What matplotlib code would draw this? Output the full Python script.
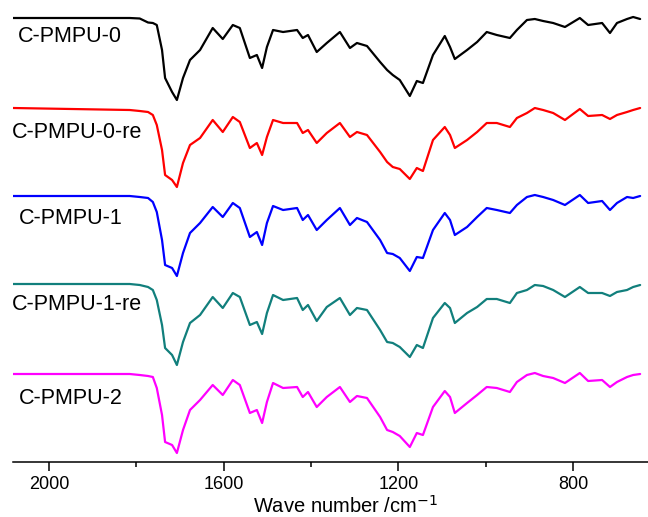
import numpy as np
import matplotlib.pyplot as plt

plt.rcParams['font.family'] = ['Liberation Sans', 'DejaVu Sans']

# wavenumbers (cm-1) at which the spectra were read
wavenumber = [2082, 1815, 1792, 1773, 1762, 1753, 1741, 1734, 1718, 1707,
              1693, 1677, 1654, 1625, 1602, 1579, 1563, 1540, 1524, 1512,
              1501, 1487, 1464, 1432, 1419, 1407, 1387, 1364, 1334, 1311,
              1295, 1272, 1242, 1226, 1213, 1197, 1174, 1158, 1144, 1121,
              1094, 1082, 1071, 1043, 1020, 998, 975, 945, 929, 906,
              888, 869, 846, 819, 785, 766, 734, 716, 700, 677,
              663, 647]

# relative transmittance (a.u., baseline = 0)
pmpu_0 = [0, 0, -0.5, -4.5, -5, -7, -32, -60, -74, -82,
          -60, -42, -32, -10, -21, -7, -10, -40, -37, -50,
          -29, -12, -14, -12, -20, -17, -34, -25, -14, -30,
          -25, -28, -44, -52, -57, -62, -78, -63, -65, -37,
          -18, -29, -41, -32, -24, -14, -17, -20, -12, -2,
          -1, -3, -5, -9, 0, -7, -5, -15, -5, -1,
          1, -1]
pmpu_0_re = [1, -1, -2, -3, -6, -16, -41, -66, -71, -78,
             -54, -36, -29, -11, -23, -8, -13, -39, -34, -46,
             -28, -11, -14, -14, -24, -21, -34, -24, -14, -28,
             -23, -26, -43, -53, -58, -60, -70, -59, -62, -31,
             -18, -26, -39, -31, -23, -14, -14, -18, -9, -4,
             1, -1, -4, -11, 0, -7, -6, -10, -6, -3,
             -1, 1]
pmpu_1 = [0, 0, -1, -2, -6, -16, -44, -69, -72, -80,
          -57, -37, -27, -11, -21, -7, -12, -41, -36, -49,
          -27, -10, -14, -12, -24, -19, -34, -24, -12, -29,
          -22, -26, -44, -57, -58, -62, -75, -61, -62, -34,
          -17, -24, -39, -31, -21, -12, -14, -17, -9, -1,
          1, -1, -4, -9, 1, -7, -5, -14, -7, -1,
          -2, 0]
pmpu_1_re = [0, 0, -1, -3, -6, -16, -41, -64, -71, -81,
             -58, -39, -31, -13, -24, -9, -13, -41, -38, -50,
             -29, -11, -16, -14, -26, -21, -37, -23, -14, -31,
             -24, -26, -46, -58, -59, -63, -73, -61, -64, -34,
             -19, -24, -39, -29, -23, -15, -15, -19, -9, -6,
             -1, -2, -6, -13, -3, -9, -9, -12, -8, -6,
             -3, -1]
pmpu_2 = [0, 0, -1, -2, -3, -14, -41, -68, -71, -79,
          -56, -36, -26, -11, -21, -6, -11, -39, -36, -49,
          -28, -9, -14, -13, -23, -18, -33, -23, -13, -28,
          -22, -24, -43, -56, -58, -62, -73, -59, -61, -33,
          -17, -23, -39, -29, -21, -13, -14, -18, -8, -1,
          1, -2, -4, -9, 1, -7, -6, -13, -8, -3,
          -1, 0]

names = ['C-PMPU-0', 'C-PMPU-0-re', 'C-PMPU-1', 'C-PMPU-1-re', 'C-PMPU-2']
series = [pmpu_0, pmpu_0_re, pmpu_1, pmpu_1_re, pmpu_2]
colors = ['black', '#ff0000', '#0000ff', '#117f7c', '#ff00ff']
offsets = [0, -91, -178, -266, -356]
label_x = [2071, 2085, 2068, 2085, 2068]
label_dy = [-19, -24, -22, -21, -24]

fig = plt.figure(figsize=(6.48, 5.17), dpi=100)
ax = fig.add_axes([13/648, 55/517, 635/648, 462/517])

wn = np.array(wavenumber)
for vals, off, c, name, lx, dy in zip(series, offsets, colors, names, label_x, label_dy):
    ax.plot(wn, np.array(vals) + off, color=c, lw=1.6,
            solid_joinstyle='round', solid_capstyle='round')
    ax.text(lx, off + dy, name, fontsize=15.5, ha='left', va='center', clip_on=False)

ax.set_xlim(2082, 629)
ax.set_ylim(-444, 18)
ax.set_xticks([2000, 1600, 1200, 800])
ax.set_xticks([1800, 1400, 1000], minor=True)
ax.tick_params(axis='x', which='major', length=6.5, width=1.1, labelsize=13, pad=3.5)
ax.tick_params(axis='x', which='minor', length=3.6, width=1.1)
ax.set_yticks([])
for s in ['top', 'right', 'left']:
    ax.spines[s].set_visible(False)
ax.spines['bottom'].set_linewidth(1.1)

ax.set_xlabel('Wave number /cm$^{-1}$', fontsize=14.5, va='baseline')
ax.xaxis.set_label_coords(0.524, -0.109)

fig.savefig('out.png', dpi=100)
